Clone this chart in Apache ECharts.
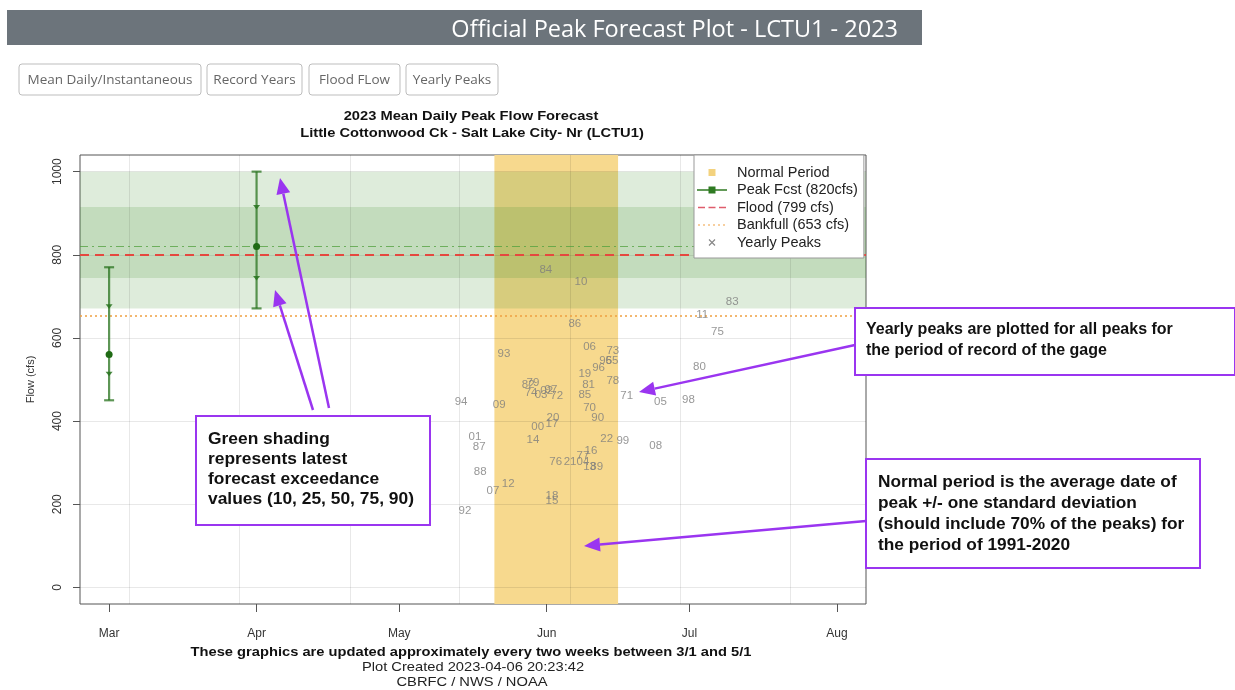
<!DOCTYPE html>
<html>
<head>
<meta charset="utf-8">
<script src="https://cdn.jsdelivr.net/npm/echarts@6/dist/echarts.min.js"></script>
<style>
  html, body { margin: 0; padding: 0; background: #fff; }
  #chart { width: 1235px; height: 690px; }
</style>
</head>
<body>
<div id="chart"></div>
<script>
// x values are days counted from Mar 1 2023

// month ticks on the x axis
const monthDays = [0, 31, 61, 92, 122, 153];
const monthLabels = ['Mar', 'Apr', 'May', 'Jun', 'Jul', 'Aug'];

// flow ticks
const flowTicks = [0, 200, 400, 600, 800, 1000];

// faint grid lines (R grid() positions)
const gridDays = [4.3, 27.4, 50.6, 73.7, 96.9, 120.0, 143.2];

// normal period (average peak date +/- 1 sd)
const normalStart = 81;   // May 21
const normalEnd = 107;    // Jun 16

// reference lines
const peakFcst = 820;
const floodFlow = 799;
const bankfullFlow = 653;

// forecast issued on Mar 1 and Apr 1 (exceedance values)
const fcstDays = [0, 31];
const fcst90 = [450, 671];
const fcst75 = [514, 744];
const fcst50 = [560, 820];
const fcst25 = [676, 915];
const fcst10 = [770, 1000];

// yearly peaks (label = 2 digit year)
const peakYears = ['84', '10', '83', '11', '75', '86', '06', '73', '95', '65',
  '96', '19', '80', '93', '78', '81', '85', '71', '05', '98',
  '70', '90', '82', '79', '74', '03', '02', '97', '72', '94',
  '09', '20', '17', '00', '14', '01', '87', '22', '99', '08',
  '16', '77', '04', '21', '76', '13', '89', '88', '12', '07',
  '18', '15', '92'];
const peakDays = [91.8, 99.2, 131.0, 124.7, 127.9, 97.9, 101.0, 105.9, 104.4, 105.7,
  102.9, 100.0, 124.1, 83.0, 105.9, 100.8, 100.0, 108.8, 115.9, 121.8,
  101.0, 102.7, 88.1, 89.1, 88.7, 90.8, 92.0, 92.9, 94.1, 74.0,
  82.0, 93.3, 93.1, 90.1, 89.1, 76.9, 77.8, 104.6, 108.0, 114.9,
  101.3, 99.6, 99.6, 96.9, 93.9, 101.0, 102.5, 78.0, 83.9, 80.7,
  93.1, 93.1, 74.8];
const peakFlows = [763, 734, 688, 655, 614, 633, 578, 568, 546, 544,
  527, 513, 530, 561, 496, 488, 464, 460, 447, 450,
  433, 407, 486, 493, 467, 462, 472, 474, 460, 447,
  438, 407, 394, 387, 356, 361, 339, 358, 353, 341,
  329, 317, 303, 301, 303, 289, 289, 279, 250, 233,
  221, 207, 185];

const FONT = 'Liberation Sans, Arial, sans-serif';
const PURPLE = '#9a35f0';
const R_STRETCH = 1.13;   // the R plot image is a bit wider than its text height

const chart = echarts.init(document.getElementById('chart'));

// arrow = line + head, pixel annotation
function arrow(x1, y1, x2, y2) {
    const dx = x2 - x1, dy = y2 - y1;
    const len = Math.sqrt(dx * dx + dy * dy);
    const ux = dx / len, uy = dy / len;
    const hl = 16, hw = 7;
    const bx = x2 - ux * hl, by = y2 - uy * hl;
    return [
        { type: 'line', shape: { x1: x1, y1: y1, x2: bx, y2: by },
          style: { stroke: PURPLE, lineWidth: 2.5 }, z: 100 },
        { type: 'polygon', shape: { points: [[x2, y2], [bx - uy * hw, by + ux * hw], [bx + uy * hw, by - ux * hw]] },
          style: { fill: PURPLE }, z: 100 }
    ];
}

function noteBox(x, y, w, h, lines, tx, ty, size, gap) {
    const els = [{ type: 'rect', shape: { x: x, y: y, width: w, height: h },
        style: { fill: '#fff', stroke: PURPLE, lineWidth: 2 }, z: 90 }];
    lines.forEach(function (t, i) {
        els.push({ type: 'text', x: tx, y: ty + i * gap, z: 91,
            style: { text: t, font: 'bold ' + size + 'px ' + FONT, fill: '#111', verticalAlign: 'middle' } });
    });
    return els;
}

function rText(t, x, y, bold) {
    return { type: 'text', x: x, y: y, scaleX: R_STRETCH,
        style: { text: t, font: (bold ? 'bold ' : '') + '13px ' + FONT, fill: bold ? '#111' : '#222',
            align: 'center', verticalAlign: 'middle' } };
}

const buttons = [
    { label: 'Mean Daily/Instantaneous', x: 19, w: 182 },
    { label: 'Record Years', x: 207, w: 95 },
    { label: 'Flood FLow', x: 309, w: 91 },
    { label: 'Yearly Peaks', x: 406, w: 92 }
];

const graphics = [
    { type: 'rect', shape: { x: 7, y: 10, width: 915, height: 35 }, style: { fill: '#6c747b' } },
    { type: 'text', x: 898, y: 30, style: { text: 'Official Peak Forecast Plot - LCTU1 - 2023',
        font: '23.5px Open Sans, sans-serif', fill: '#fff', align: 'right', verticalAlign: 'middle' } },
    rText('2023 Mean Daily Peak Flow Forecast', 471, 116, true),
    rText('Little Cottonwood Ck - Salt Lake City- Nr (LCTU1)', 472, 133, true),
    rText('These graphics are updated approximately every two weeks between 3/1 and 5/1', 471, 652, true),
    rText('Plot Created 2023-04-06 20:23:42', 473, 667, false),
    rText('CBRFC / NWS / NOAA', 472, 682, false)
];

buttons.forEach(function (b) {
    graphics.push({ type: 'rect', shape: { x: b.x, y: 64, width: b.w, height: 31, r: 3 },
        style: { fill: '#fff', stroke: '#bdbdbd', lineWidth: 1 } });
    graphics.push({ type: 'text', x: b.x + b.w / 2, y: 80, style: { text: b.label,
        font: '13.5px Open Sans, sans-serif', fill: '#666', align: 'center', verticalAlign: 'middle' } });
});

Array.prototype.push.apply(graphics, noteBox(196, 416, 234, 109,
    ['Green shading', 'represents latest', 'forecast exceedance', 'values (10, 25, 50, 75, 90)'], 208, 439, 17.4, 20));
Array.prototype.push.apply(graphics, noteBox(855, 308, 380, 67,
    ['Yearly peaks are plotted for all peaks for', 'the period of record of the gage'], 866, 330, 16, 21));
Array.prototype.push.apply(graphics, noteBox(866, 459, 334, 109,
    ['Normal period is the average date of', 'peak +/- one standard deviation',
     '(should include 70% of the peaks) for', 'the period of 1991-2020'], 878, 482, 17.3, 21));
Array.prototype.push.apply(graphics, arrow(329, 408, 280, 178));
Array.prototype.push.apply(graphics, arrow(313, 410, 275, 290));
Array.prototype.push.apply(graphics, arrow(855, 345, 639, 392));
Array.prototype.push.apply(graphics, arrow(866, 521, 584, 546));

const gridLineData = gridDays.map(function (d) { return { xAxis: d }; })
    .concat(flowTicks.map(function (v) { return { yAxis: v }; }));

const fcstData = fcstDays.map(function (d, i) {
    return [d, fcst90[i], fcst75[i], fcst50[i], fcst25[i], fcst10[i]];
});
const last = fcstDays.length - 1;

const peakData = peakDays.map(function (d, i) { return [d, peakFlows[i], peakYears[i]]; });

const FCST_GREEN = '#2f7a22';
const BOX = 'M0,0M30,14';   // keeps every legend icon in the same 30x14 frame

chart.setOption({
    animation: false,
    textStyle: { fontFamily: FONT },
    graphic: graphics,
    grid: { left: 80, top: 155, width: 786, height: 449, show: true,
        borderColor: '#555', borderWidth: 1, backgroundColor: 'transparent' },
    legend: {
        orient: 'vertical', left: 694, top: 155,
        padding: [10, 6, 8, 3], itemGap: 2.5, itemWidth: 30, itemHeight: 14,
        backgroundColor: '#fff', borderColor: '#999', borderWidth: 1, borderRadius: 0,
        textStyle: { fontSize: 14.5, color: '#222', fontFamily: FONT, padding: [0, 0, 0, 5] },
        data: [
            { name: 'Normal Period', icon: 'path://' + BOX + 'M11.5,3.5h7v7h-7Z', itemStyle: { color: '#f3d27e' } },
            { name: 'Peak Fcst (820cfs)', icon: 'path://' + BOX + 'M0,6.2h30v1.6h-30ZM11.5,3.5h7v7h-7Z',
              itemStyle: { color: FCST_GREEN } },
            { name: 'Flood (799 cfs)', icon: 'path://' + BOX + 'M1,6.3h7v1.4h-7ZM11.5,6.3h7v1.4h-7ZM22,6.3h7v1.4h-7Z',
              itemStyle: { color: '#df5d6c' } },
            { name: 'Bankfull (653 cfs)', icon: 'path://' + BOX +
              'M1,6.4h2v1.2h-2ZM6,6.4h2v1.2h-2ZM11,6.4h2v1.2h-2ZM16,6.4h2v1.2h-2ZM21,6.4h2v1.2h-2ZM26,6.4h2v1.2h-2Z',
              itemStyle: { color: '#f0a040' } },
            { name: 'Yearly Peaks', icon: 'path://' + BOX + 'M11.6,4.4L12.4,3.6L18.4,9.6L17.6,10.4ZM17.6,3.6L18.4,4.4L12.4,10.4L11.6,9.6Z',
              itemStyle: { color: '#666' } }
        ],
        z: 50
    },
    xAxis: {
        type: 'value', min: -6.12, max: 159.12, position: 'bottom',
        axisLine: { show: false, onZero: false },
        splitLine: { show: false },
        axisTick: { show: true, inside: false, length: 8, customValues: monthDays,
            lineStyle: { color: '#555' } },
        axisLabel: { customValues: monthDays, margin: 24, fontSize: 12, color: '#333',
            formatter: function (v) { return monthLabels[monthDays.indexOf(v)]; } }
    },
    yAxis: {
        type: 'value', min: -40, max: 1040, position: 'left',
        name: 'Flow (cfs)', nameLocation: 'middle', nameGap: 44, nameRotate: 90,
        nameTextStyle: { fontSize: 11, color: '#333' },
        axisLine: { show: false, onZero: false },
        splitLine: { show: false },
        axisTick: { show: true, inside: false, length: 7, customValues: flowTicks,
            lineStyle: { color: '#555' } },
        axisLabel: { customValues: flowTicks, rotate: 90, margin: 16, fontSize: 12, color: '#333',
            formatter: function (v) { return String(v); } }
    },
    series: [
        {
            name: 'Normal Period', type: 'line', data: [], z: 1, silent: true,
            markArea: { silent: true, itemStyle: { color: '#f7d98e' },
                data: [[{ xAxis: normalStart }, { xAxis: normalEnd }]] }
        },
        {
            name: 'grid', type: 'line', data: [], z: 2, silent: true,
            markLine: { silent: true, symbol: ['none', 'none'], label: { show: false },
                lineStyle: { color: 'rgba(0,0,0,0.09)', type: 'solid', width: 1 },
                data: gridLineData }
        },
        {
            name: 'Peak Fcst (820cfs)', type: 'line', data: [], z: 3,
            symbol: 'rect', symbolSize: 7,
            itemStyle: { color: FCST_GREEN },
            lineStyle: { color: FCST_GREEN, width: 2 },
            markArea: { silent: true, itemStyle: { color: 'rgba(60,140,40,0.17)' },
                data: [
                    [{ yAxis: fcst90[last] }, { yAxis: fcst10[last] }],
                    [{ yAxis: fcst75[last] }, { yAxis: fcst25[last] }]
                ] },
            markLine: { silent: true, symbol: ['none', 'none'], label: { show: false },
                lineStyle: { color: 'rgba(80,160,60,0.75)', type: [8, 4, 2, 4], width: 1 },
                data: [{ yAxis: peakFcst }] }
        },
        {
            name: 'Flood (799 cfs)', type: 'line', data: [], z: 4, symbol: 'none',
            lineStyle: { color: '#e5483f', type: [9, 6], width: 2 },
            itemStyle: { color: '#e5483f' },
            markLine: { silent: true, symbol: ['none', 'none'], label: { show: false },
                lineStyle: { color: '#e5483f', type: [9, 6], width: 2 },
                data: [{ yAxis: floodFlow }] }
        },
        {
            name: 'Bankfull (653 cfs)', type: 'line', data: [], z: 4, symbol: 'none',
            lineStyle: { color: '#f0a040', type: [2, 3], width: 1.5 },
            itemStyle: { color: '#f0a040' },
            markLine: { silent: true, symbol: ['none', 'none'], label: { show: false },
                lineStyle: { color: '#f0a040', type: [2, 3], width: 1.5 },
                data: [{ yAxis: bankfullFlow }] }
        },
        {
            name: 'errorbars', type: 'custom', z: 5, silent: true,
            data: fcstData,
            renderItem: function (params, api) {
                const d = api.value(0);
                const p90 = api.coord([d, api.value(1)]);
                const p75 = api.coord([d, api.value(2)]);
                const p50 = api.coord([d, api.value(3)]);
                const p25 = api.coord([d, api.value(4)]);
                const p10 = api.coord([d, api.value(5)]);
                const x = p50[0];
                const stroke = { stroke: 'rgba(40,115,30,0.75)', lineWidth: 2.2 };
                const tri = function (y) {
                    return { type: 'polygon', shape: { points: [[x - 3.5, y - 2], [x + 3.5, y - 2], [x, y + 2.5]] },
                        style: { fill: 'rgba(40,115,30,0.85)' } };
                };
                return { type: 'group', children: [
                    { type: 'line', shape: { x1: x, y1: p90[1], x2: x, y2: p10[1] }, style: stroke },
                    { type: 'line', shape: { x1: x - 5, y1: p90[1], x2: x + 5, y2: p90[1] }, style: stroke },
                    { type: 'line', shape: { x1: x - 5, y1: p10[1], x2: x + 5, y2: p10[1] }, style: stroke },
                    tri(p75[1]), tri(p25[1]),
                    { type: 'circle', shape: { cx: x, cy: p50[1], r: 3.5 }, style: { fill: '#1f6a14' } }
                ] };
            }
        },
        {
            name: 'Yearly Peaks', type: 'scatter', z: 6, silent: true,
            data: peakData, symbolSize: 1,
            itemStyle: { color: 'rgba(0,0,0,0)' },
            label: { show: true, position: 'inside', fontSize: 11.5, color: '#7d7d7d',
                fontFamily: FONT, formatter: function (p) { return p.data[2]; } },
            labelLayout: { hideOverlap: false }
        }
    ]
});
</script>
</body>
</html>
